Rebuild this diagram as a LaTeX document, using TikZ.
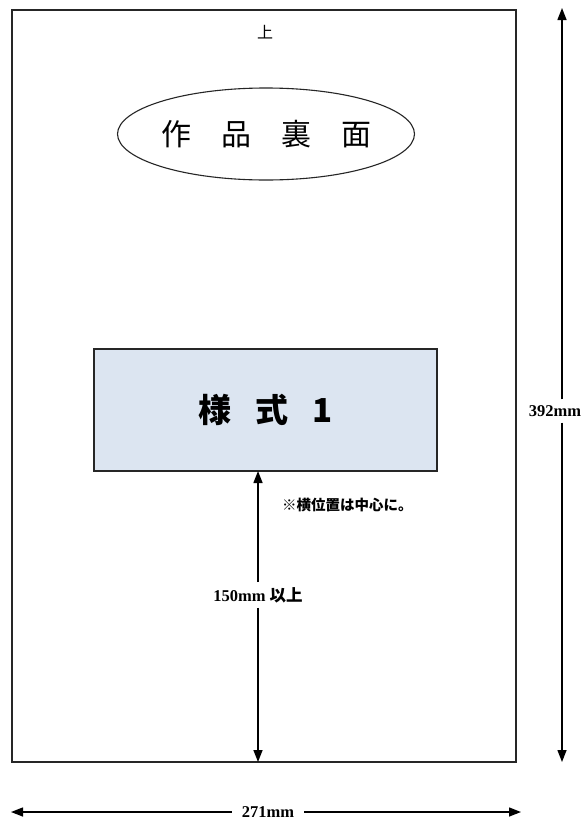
\documentclass[tikz,border=0pt]{standalone}
\usepackage{fontspec}
\setmainfont{Liberation Serif}
\newfontfamily\jp{Noto Sans CJK JP}
\usetikzlibrary{arrows.meta,shapes.geometric}
\definecolor{boxblue}{RGB}{220,229,241}
\tikzset{
  frameline/.style={draw=black!85, line width=1.1pt},
  arr/.style={line width=1.4pt, -{Triangle[length=12pt,width=9pt]}},
  dimlabel/.style={fill=white, inner sep=3pt, font=\bfseries\fontsize{16.5}{18}\selectfont},
}
\begin{document}
\begin{tikzpicture}[x=1pt,y=-1pt]
\useasboundingbox[fill=white] (0,0) rectangle (585,822);
% page frame
\node[frameline, minimum width=504pt, minimum height=752pt, inner sep=0pt] (page) at (264,386) {};
\node[font=\jp\fontsize{16}{16}\selectfont] (top) at (265,32) {上};
% title ellipse
\node[ellipse, frameline, minimum width=262pt, minimum height=92pt, inner sep=0pt,
      font=\jp\fontsize{30}{30}\selectfont] (title) at (266,134)
  {作\hspace{30pt}品\hspace{30pt}裏\hspace{30pt}面};
% form box
\node[frameline, fill=boxblue, minimum width=343pt, minimum height=122pt, inner sep=0pt,
      font=\jp\bfseries\fontsize{33}{33}\selectfont] (form) at (265.5,410)
  {様\hspace{24pt}式\hspace{24pt}1};
% note
\node[font=\jp\bfseries\fontsize{14.5}{16}\selectfont, anchor=west, inner sep=0pt] (note) at (282,505) {※横位置は中心に。};
% 150mm dimension
\coordinate (vt) at (258,471);
\coordinate (vb) at (258,762);
\node[dimlabel, inner ysep=5pt] (l150) at (258,595) {150mm {\jp 以上}};
\draw[arr] (l150) -- (vt);
\draw[arr] (l150) -- (vb);
% 392mm dimension
\coordinate (rt) at (562,8);
\coordinate (rb) at (562,762);
\node[dimlabel, inner ysep=6pt] (l392) at (555,411) {392mm};
\draw[arr] (rt |- l392.north) -- (rt);
\draw[arr] (rb |- l392.south) -- (rb);
% 271mm dimension
\coordinate (bl) at (11,812);
\coordinate (br) at (521,812);
\node[dimlabel, inner xsep=10pt] (l271) at (268,812) {271mm};
\draw[arr] (l271) -- (bl);
\draw[arr] (l271) -- (br);
\end{tikzpicture}
\end{document}
